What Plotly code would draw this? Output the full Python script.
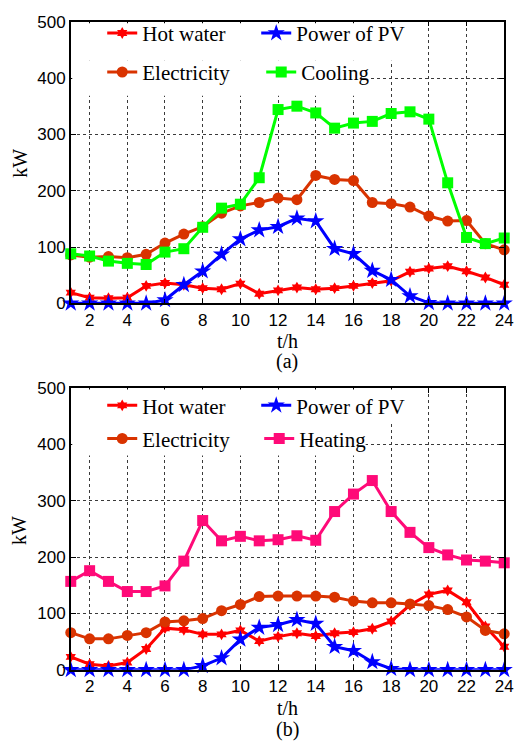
import plotly.graph_objects as go

hours = list(range(1, 25))

# (a) summer
hot_water_a = [19, 10, 9, 10, 31, 36, 33, 27, 25, 35, 17, 23, 28, 25, 27, 31, 36, 40, 56, 62, 66, 57, 46, 33]
pv_a = [0, 0, 0, 0, 0, 6, 33, 57, 87, 114, 130, 136, 151, 146, 97, 88, 58, 42, 13, 1, 0, 0, 0, 0]
elec_a = [86, 82, 83, 81, 87, 107, 123, 136, 160, 173, 179, 187, 184, 227, 220, 218, 179, 177, 171, 155, 146, 147, 106, 95]
cooling_a = [88, 84, 75, 71, 69, 91, 97, 135, 169, 176, 223, 344, 350, 338, 311, 320, 323, 337, 340, 327, 214, 117, 106, 116]

# (b) winter
hot_water_b = [23, 10, 7, 13, 37, 74, 71, 63, 63, 70, 51, 59, 65, 60, 65, 67, 73, 86, 115, 134, 141, 120, 77, 41]
pv_b = [0, 0, 0, 0, 0, 0, 0, 7, 21, 54, 75, 80, 89, 82, 41, 34, 14, 2, 0, 0, 0, 0, 0, 0]
elec_b = [66, 55, 55, 61, 66, 85, 87, 91, 105, 116, 130, 131, 131, 131, 129, 122, 119, 119, 117, 114, 107, 94, 70, 64]
heating_b = [157, 176, 157, 139, 139, 149, 193, 265, 229, 237, 229, 231, 238, 230, 281, 312, 336, 281, 244, 217, 204, 195, 193, 190]

x_ticks = list(range(2, 25, 2))
y_ticks = [0, 100, 200, 300, 400, 500]

C_HOT = "#ff0000"
C_PV = "#0000ff"
C_EL = "#d93300"
C_COOL = "#00ff00"
C_HEAT = "#ff0a78"

W, H = 526, 751
fig = go.Figure()

def add(y, name, color, symbol, msize, xa, ya, legend):
    fig.add_trace(go.Scatter(
        x=hours, y=y, name=name, mode="lines+markers",
        line=dict(color=color, width=3),
        marker=dict(symbol=symbol, size=msize, color=color, line=dict(width=0)),
        xaxis=xa, yaxis=ya, legend=legend, cliponaxis=False,
    ))

add(hot_water_a, "Hot water", C_HOT, "hexagram", 9, "x", "y", "legend")
add(pv_a, "Power of PV", C_PV, "star", 13, "x", "y", "legend")
add(elec_a, "Electricity", C_EL, "circle", 11, "x", "y", "legend2")
add(cooling_a, "Cooling", C_COOL, "square", 11, "x", "y", "legend2")

add(hot_water_b, "Hot water", C_HOT, "hexagram", 9, "x2", "y2", "legend3")
add(pv_b, "Power of PV", C_PV, "star", 13, "x2", "y2", "legend3")
add(elec_b, "Electricity", C_EL, "circle", 11, "x2", "y2", "legend4")
add(heating_b, "Heating", C_HEAT, "square", 11, "x2", "y2", "legend4")

x0, x1 = 72 / W, 513 / W
top_a, bot_a = 1 - 13 / H, 1 - 302 / H
top_b, bot_b = 1 - 389 / H, 1 - 678 / H

axis_common = dict(
    showline=True, linecolor="black", linewidth=1.5, mirror="allticks",
    ticks="inside", ticklen=5, tickwidth=1, tickcolor="black",
    showgrid=True, gridcolor="#3a3a3a", gridwidth=1, griddash="dot",
    zeroline=False,
    tickfont=dict(family="Liberation Sans, Arial", size=17, color="black"),
)

fig.update_layout(
    width=W, height=H, margin=dict(l=0, r=0, t=0, b=0),
    paper_bgcolor="white", plot_bgcolor="white",
    xaxis=dict(domain=[x0, x1], range=[1, 24], tickvals=x_ticks, anchor="y", **axis_common),
    yaxis=dict(domain=[bot_a, top_a], range=[0, 500], tickvals=y_ticks, anchor="x", **axis_common),
    xaxis2=dict(domain=[x0, x1], range=[1, 24], tickvals=x_ticks, anchor="y2", **axis_common),
    yaxis2=dict(domain=[bot_b, top_b], range=[0, 500], tickvals=y_ticks, anchor="x2", **axis_common),
    showlegend=True,
)

def leg(xpx, ypx, ew):
    return dict(
        orientation="h", xanchor="left", yanchor="middle",
        x=xpx / W, y=1 - ypx / H,
        bgcolor="rgba(255,255,255,0)", borderwidth=0,
        font=dict(family="Liberation Serif, Times New Roman", size=21, color="black"),
        entrywidth=ew, entrywidthmode="pixels",
    )

fig.update_layout(
    legend=leg(104, 25, 109),
    legend2=leg(104, 65, 114),
    legend3=leg(104, 407, 109),
    legend4=leg(104, 441, 112),
)

# white boxes behind the legend rows (hide grid like the original legend box)
def white_box(xa, xb, ya, yb):
    fig.add_shape(type="rect", xref="paper", yref="paper",
                  x0=xa / W, x1=xb / W, y0=1 - yb / H, y1=1 - ya / H,
                  fillcolor="white", line=dict(width=0), layer="above")

white_box(73.5, 412, 14.5, 53)
white_box(73.5, 377, 53, 89)
white_box(73.5, 412, 390.5, 425)
white_box(73.5, 372, 425, 458)

title_font = dict(family="Liberation Serif, Times New Roman", size=20, color="black")
ann = [
    dict(text="kW", x=20 / W, y=1 - 158 / H, textangle=-90),
    dict(text="t/h", x=(x0 + x1) / 2, y=1 - 341 / H),
    dict(text="(a)", x=(x0 + x1) / 2, y=1 - 362 / H),
    dict(text="kW", x=20 / W, y=1 - 535 / H, textangle=-90),
    dict(text="t/h", x=(x0 + x1) / 2, y=1 - 717 / H),
    dict(text="(b)", x=(x0 + x1) / 2, y=1 - 739 / H),
]
for a in ann:
    fig.add_annotation(xref="paper", yref="paper", showarrow=False,
                       xanchor="center", yanchor="middle", font=title_font, **a)

fig.write_html("out.html")
